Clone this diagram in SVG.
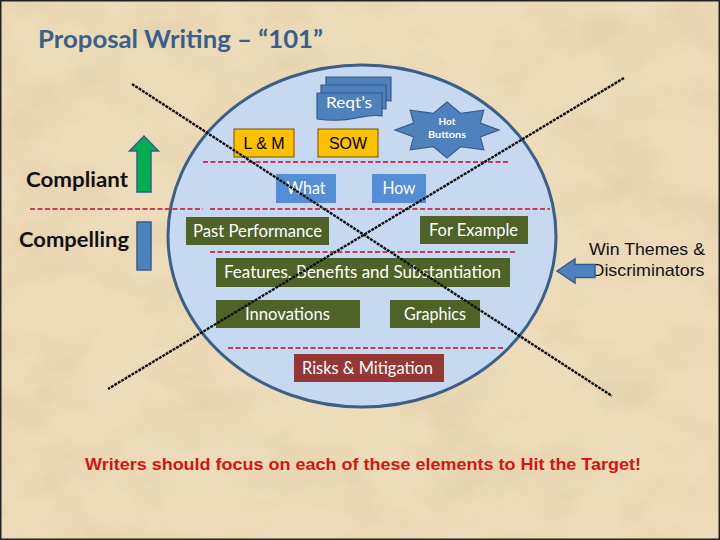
<svg xmlns="http://www.w3.org/2000/svg" width="720" height="540" viewBox="0 0 720 540">
<defs>
<filter id="paper" x="0" y="0" width="100%" height="100%">
<feTurbulence type="fractalNoise" baseFrequency="0.012 0.018" numOctaves="4" seed="7"/>
<feColorMatrix type="matrix" values="0 0 0 0 0.62  0 0 0 0 0.48  0 0 0 0 0.28  1.3 0 0 0 -0.55"/>
</filter>
<style>
.cal{font-family:Lato,"Open Sans","Noto Sans",sans-serif;fill:#fff}
.ari{font-family:"Liberation Sans",Arial,sans-serif}
.sep{stroke:#cc3a57;stroke-width:2;stroke-dasharray:5 2.5;fill:none}
.cross{stroke:#111;stroke-width:2.4;stroke-dasharray:3 1;fill:none}
.olive{fill:#4f6228}
.blue{fill:#4f81bd;stroke:#385d8a;stroke-width:1.2}
.gold{fill:#ffc000;stroke:#6b5200;stroke-width:1}
.lbl{font-size:16.5px;text-anchor:middle}
</style>
</defs>
<rect x="0" y="0" width="720" height="540" fill="#eddcb9"/>
<rect x="0" y="0" width="720" height="540" filter="url(#paper)" opacity="0.5"/>
<rect x="0.75" y="0.75" width="718.5" height="538.5" fill="none" stroke="#222" stroke-width="1.5"/>

<text x="38" y="48" font-family="Lato,'Open Sans',sans-serif" font-weight="bold" font-size="25" fill="#3b5f8b" textLength="285" lengthAdjust="spacingAndGlyphs">Proposal Writing – “101”</text>

<g id="target">
<ellipse cx="362" cy="236" rx="194" ry="171" fill="#c6d9f1" stroke="#3c5f88" stroke-width="3"/>
</g>

<g id="compliant">
<text x="26" y="187" font-family="Lato,'Open Sans',sans-serif" font-weight="bold" font-size="20" fill="#111" textLength="102" lengthAdjust="spacingAndGlyphs">Compliant</text>
<path d="M137,192 V151 H129.5 L144,136 L158.5,151 H151 V192 Z" fill="#00b050" stroke="#385d8a" stroke-width="1.5"/>
</g>
<g id="compelling">
<text x="19" y="247" font-family="Lato,'Open Sans',sans-serif" font-weight="bold" font-size="20" fill="#111" textLength="110" lengthAdjust="spacingAndGlyphs">Compelling</text>
<path d="M137,222 H151 V270 H137 Z" fill="#4f81bd" stroke="#385d8a" stroke-width="1.5"/>
</g>

<g id="lines">
<line class="sep" x1="203" y1="162" x2="508" y2="162"/>
<line class="sep" x1="30" y1="209" x2="203" y2="209"/>
<line class="sep" x1="210" y1="209" x2="550" y2="209"/>
<line class="sep" x1="210" y1="252" x2="515" y2="252"/>
<line class="sep" x1="228" y1="348" x2="503" y2="348"/>
</g>

<g id="reqts">
<path class="blue" d="M326,77 H391 V101 C376,97 362,108 326,103 Z"/>
<path class="blue" d="M321,85 H386 V109 C371,105 357,116 321,111 Z"/>
<path class="blue" d="M317,93 H382 V116 C367,112 352,124 317,119 Z"/>
<text class="cal" x="349" y="108" font-size="15" text-anchor="middle" textLength="46" lengthAdjust="spacingAndGlyphs">Reqt’s</text>
</g>

<g id="hot-buttons">
<path class="blue" d="M447,102 L460.8,113.4 L483.8,110.2 L480.3,123.1 L499,130 L480.3,136.9 L483.8,149.8 L460.8,146.6 L447,158 L433.2,146.6 L410.2,149.8 L413.7,136.9 L395,130 L413.7,123.1 L410.2,110.2 L433.2,113.4 Z"/>
<text class="cal" x="447" y="124.5" font-size="10" font-weight="bold" text-anchor="middle">Hot</text>
<text class="cal" x="447" y="137.5" font-size="10" font-weight="bold" text-anchor="middle" textLength="38" lengthAdjust="spacingAndGlyphs">Buttons</text>
</g>

<g id="lm">
<rect class="gold" x="234" y="129" width="60" height="28"/>
<text class="ari" x="264" y="149" font-size="16" text-anchor="middle">L &amp; M</text>
</g>
<g id="sow">
<rect class="gold" x="318" y="129" width="60" height="28"/>
<text class="ari" x="348" y="149" font-size="16" text-anchor="middle">SOW</text>
</g>

<g id="what">
<rect x="276" y="174" width="60" height="29" fill="#558ed5"/>
<text class="cal lbl" x="306" y="194" textLength="39" lengthAdjust="spacingAndGlyphs">What</text>
</g>
<g id="how">
<rect x="372" y="174" width="54" height="29" fill="#558ed5"/>
<text class="cal lbl" x="399" y="194" textLength="33" lengthAdjust="spacingAndGlyphs">How</text>
</g>

<g id="past-performance">
<rect class="olive" x="186" y="217" width="143" height="28"/>
<text class="cal lbl" x="257.5" y="236.5" textLength="129" lengthAdjust="spacingAndGlyphs">Past Performance</text>
</g>
<g id="for-example">
<rect class="olive" x="420" y="216" width="108" height="28"/>
<text class="cal lbl" x="473.5" y="235.5" textLength="89" lengthAdjust="spacingAndGlyphs">For Example</text>
</g>
<g id="features">
<rect class="olive" x="216" y="258" width="294" height="29"/>
<text class="cal lbl" x="362.5" y="278" textLength="277" lengthAdjust="spacingAndGlyphs">Features, Benefits and Substantiation</text>
</g>
<g id="innovations">
<rect class="olive" x="216" y="300" width="144" height="28"/>
<text class="cal lbl" x="287.5" y="319.5" textLength="85" lengthAdjust="spacingAndGlyphs">Innovations</text>
</g>
<g id="graphics">
<rect class="olive" x="390" y="300" width="90" height="28"/>
<text class="cal lbl" x="435" y="319.5" textLength="62" lengthAdjust="spacingAndGlyphs">Graphics</text>
</g>
<g id="risks">
<rect x="294" y="354" width="150" height="28" fill="#953735"/>
<text class="cal lbl" x="367.5" y="374" textLength="131" lengthAdjust="spacingAndGlyphs">Risks &amp; Mitigation</text>
</g>

<g id="win-themes">
<text class="ari" x="647" y="255" font-size="17" fill="#111" text-anchor="middle" textLength="116" lengthAdjust="spacingAndGlyphs">Win Themes &amp;</text>
<text class="ari" x="648" y="276" font-size="17" fill="#111" text-anchor="middle" textLength="113" lengthAdjust="spacingAndGlyphs">Discriminators</text>
<path d="M557,271 L575,259 V264.5 H595 V277.5 H575 V283 Z" fill="#4f81bd" stroke="#385d8a" stroke-width="1.5"/>
</g>

<g id="connectors">
<line class="cross" x1="132" y1="84" x2="612" y2="396"/>
<line class="cross" x1="624" y1="78" x2="108" y2="389"/>
</g>

<text class="ari" x="85" y="470" font-size="17" font-weight="bold" fill="#d41414" textLength="556" lengthAdjust="spacingAndGlyphs">Writers should focus on each of these elements to Hit the Target!</text>
</svg>
